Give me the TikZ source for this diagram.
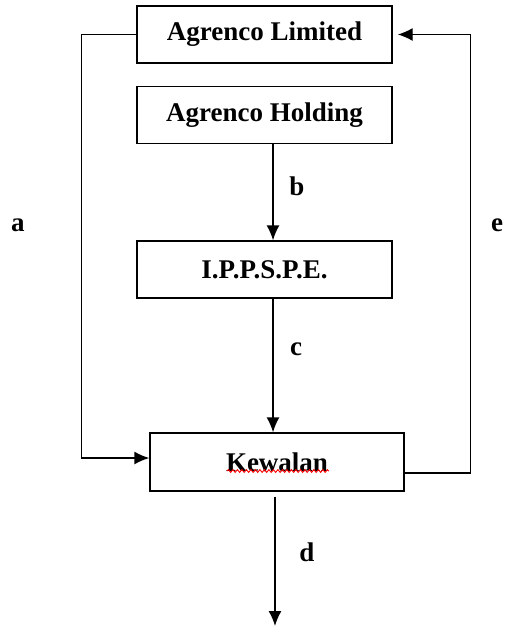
\documentclass[tikz,border=0pt]{standalone}
\usepackage{fontspec}
\setmainfont{Liberation Serif}
\usetikzlibrary{calc, arrows.meta, decorations.pathmorphing}

\tikzset{
  firm/.style={draw, line width=1.4pt, minimum width=255pt, minimum height=57pt,
    inner sep=0pt, font=\bfseries\fontsize{27}{32}\selectfont},
  flow/.style={line width=1.4pt, ->},
  tag/.style={font=\bfseries\fontsize{27}{32}\selectfont}
}

\begin{document}
\begin{tikzpicture}[x=1pt, y=-1pt, >={Latex[length=15pt,width=13pt]}]
  \useasboundingbox (0,0) rectangle (506,627);
  % companies
  \node [firm] (lim) at (264.5,34.5) {Agrenco Limited};
  \node [firm] (hold) at (264.5,115) {Agrenco Holding};
  \node [firm] (ipp) at (264.5,269.5) {I.P.P.S.P.E.};
  \node [firm, minimum width=254pt, minimum height=58pt] (kew) at (277,462) {Kewalan};
  \draw [red, line width=0.9pt, decorate, decoration={snake, amplitude=1.4pt, segment length=4.5pt}]
    ($(kew.center)+(-50,9)$) -- ($(kew.center)+(52,9)$);
  \coordinate (spine) at (273,0);
  \coordinate (dend) at (275,626);
  % flows
  \draw [flow] (hold.south -| spine) -- (ipp.north -| spine);
  \draw [flow] (ipp.south -| spine) -- (kew.north -| spine);
  \draw [flow] ($(kew.south)+(-2,5)$) -- (dend);
  \draw [flow] (lim.west) -- ++(-55,0) |- ($(kew.west)+(0,-4)$);
  \draw [flow, shorten >=5pt] ($(kew.east)+(0,11)$) -- ++(66,0) |- (lim.east);
  % letters
  \node [tag] (la) at (18,225) {a};
  \node [tag] (lb) at (297,186) {b};
  \node [tag] (lc) at (296,349) {c};
  \node [tag] (ld) at (307,552) {d};
  \node [tag] (le) at (497,225) {e};
\end{tikzpicture}
\end{document}
